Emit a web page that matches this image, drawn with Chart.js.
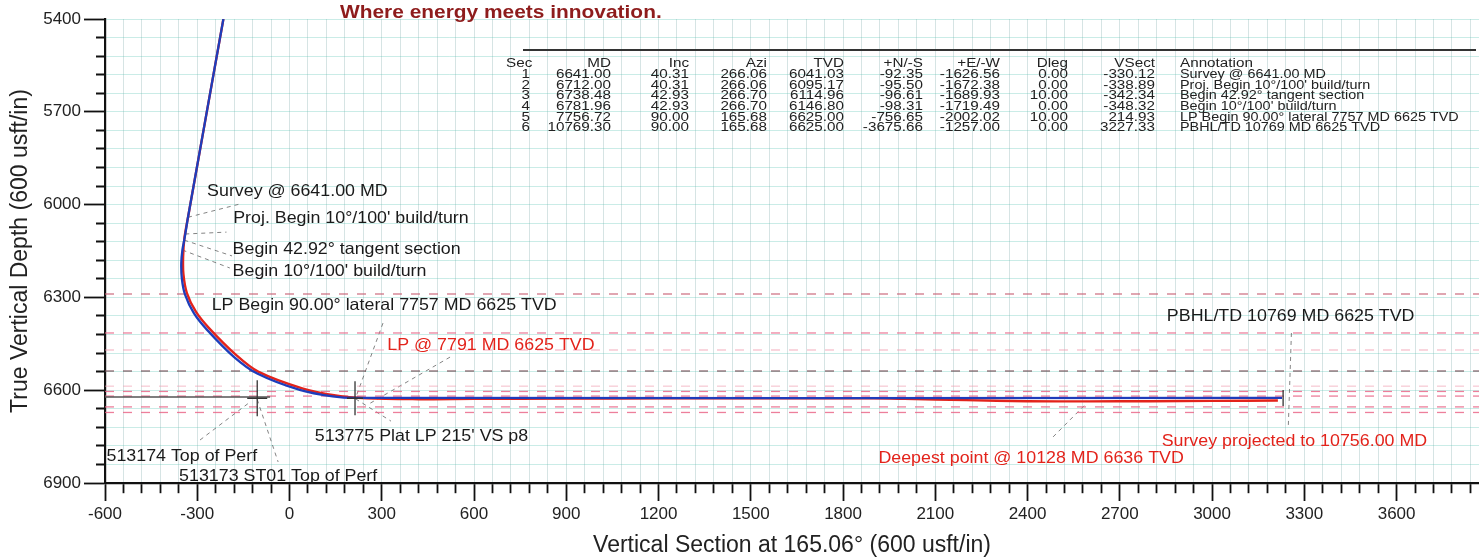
<!DOCTYPE html>
<html>
<head>
<meta charset="utf-8">
<script src="https://cdn.jsdelivr.net/npm/chart.js@4.4.1/dist/chart.umd.min.js"></script>
<style>
html,body{margin:0;padding:0;background:#fff;}
#wrap{position:relative;width:1479px;height:557px;}
</style>
</head>
<body>
<div id="wrap"><canvas id="c"></canvas></div>
<script>
// ---------------- DATA ----------------
// Plan (blue) well path: Vertical Section (usft) vs True Vertical Depth (usft)
const planVS  = [-215, -330.12, -338.89, -342.34, -348.32, -352, -350, -340, -311, -268, -181, -105, 36, 140, 214.93, 3227.33];
const planTVD = [5400, 6041.03, 6095.17, 6114.96, 6146.80, 6190, 6240, 6290, 6351, 6405, 6492, 6546, 6600, 6620, 6625, 6625];

// Actual survey (red) well path
const surveyVS  = [-215, -330, -342, -346, -345, -334, -304, -261, -174, -102, 44, 150, 250, 400, 600, 900, 1200, 1900, 2000, 2200, 2400, 2600, 2800, 3000, 3214];
const surveyTVD = [5400, 6041, 6110, 6170, 6225, 6285, 6347, 6400, 6486, 6540, 6595, 6617, 6626, 6629, 6628, 6627, 6626.5, 6626.5, 6628, 6632, 6635.5, 6636, 6635.5, 6634.5, 6633.5];

// Formation tops (dashed lines), TVD
const formationTVD = [6289, 6415, 6470, 6538, 6587, 6604, 6619, 6654, 6672];

// Perf target line (grey) and target crosshairs
const perfLineVS  = [-600, -63];
const perfLineTVD = [6622, 6622];
const targetVS  = [-105, 213, 3231];
const targetTVD = [6626, 6626, 6625];

// Axis ticks
const xMajorTicks = [-600, -300, 0, 300, 600, 900, 1200, 1500, 1800, 2100, 2400, 2700, 3000, 3300, 3600];
const yMajorTicks = [5400, 5700, 6000, 6300, 6600, 6900];
const minorStep = 60;

// Section table
const tableHeaders = ['Sec', 'MD', 'Inc', 'Azi', 'TVD', '+N/-S', '+E/-W', 'Dleg', 'VSect', 'Annotation'];
const secCol   = ['1', '2', '3', '4', '5', '6'];
const mdCol    = ['6641.00', '6712.00', '6738.48', '6781.96', '7756.72', '10769.30'];
const incCol   = ['40.31', '40.31', '42.93', '42.93', '90.00', '90.00'];
const aziCol   = ['266.06', '266.06', '266.70', '266.70', '165.68', '165.68'];
const tvdCol   = ['6041.03', '6095.17', '6114.96', '6146.80', '6625.00', '6625.00'];
const nsCol    = ['-92.35', '-95.50', '-96.61', '-98.31', '-756.65', '-3675.66'];
const ewCol    = ['-1626.56', '-1672.38', '-1689.93', '-1719.49', '-2002.02', '-1257.00'];
const dlegCol  = ['0.00', '0.00', '10.00', '0.00', '10.00', '0.00'];
const vsectCol = ['-330.12', '-338.89', '-342.34', '-348.32', '214.93', '3227.33'];
const annoCol  = ['Survey @ 6641.00 MD', "Proj. Begin 10°/100' build/turn", 'Begin 42.92° tangent section',
                  "Begin 10°/100' build/turn", 'LP Begin 90.00° lateral 7757 MD 6625 TVD', 'PBHL/TD 10769 MD 6625 TVD'];

// Plot annotations text
const labelTexts = ['Survey @ 6641.00 MD', "Proj. Begin 10°/100' build/turn", 'Begin 42.92° tangent section',
  "Begin 10°/100' build/turn", 'LP Begin 90.00° lateral 7757 MD 6625 TVD', 'LP @ 7791 MD 6625 TVD',
  "513775 Plat LP 215' VS p8", '513174 Top of Perf', '513173 ST01 Top of Perf',
  'PBHL/TD 10769 MD 6625 TVD', 'Survey projected to 10756.00 MD', 'Deepest point @ 10128 MD 6636 TVD'];
const headerText = 'Where energy meets innovation.';

// ---------------- LAYOUT / STYLE ----------------
const X_MIN = -600, X_MAX = 3868, Y_MIN = 5400, Y_MAX = 6900;
const FONT = "'Liberation Sans', Arial, Helvetica, sans-serif";
const RED = '#e3231b';
const formationColors = ['rgba(200,95,115,0.85)', 'rgba(232,100,135,0.8)', 'rgba(240,150,170,0.6)',
  'rgba(115,75,85,0.85)', 'rgba(240,160,178,0.55)', 'rgba(232,95,130,0.8)', 'rgba(232,95,130,0.8)',
  'rgba(232,95,130,0.8)', 'rgba(232,95,130,0.8)'];
// label placement in data coordinates [VS, TVD] (left edge, vertical middle)
const labelPlace = [[-268, 5958], [-183, 6044], [-185, 6145], [-185, 6217], [-253, 6325], [318, 6454],
  [82, 6751], [-595, 6815], [-359, 6880], [2853, 6362], [2836, 6766], [1915, 6820]];
const labelColor = ['#1a1a1a', '#1a1a1a', '#1a1a1a', '#1a1a1a', '#1a1a1a', RED,
  '#1a1a1a', '#1a1a1a', '#1a1a1a', '#1a1a1a', RED, RED];
const leaders = [
  [[-330, 6041], [-161, 5998]],
  [[-339, 6095], [-205, 6089]],
  [[-342, 6115], [-187, 6166]],
  [[-348, 6147], [-194, 6205]],
  [[304, 6383], [215, 6625]],
  [[522, 6493], [252, 6648]],
  [[215, 6628], [330, 6700]],
  [[-291, 6761], [-128, 6638]],
  [[-105, 6630], [-37, 6832]],
  [[3258, 6415], [3248, 6713]],
  [[2483, 6751], [2593, 6641]]
];

function pts(xs, ys) { return xs.map((x, i) => ({x: x, y: ys[i]})); }

const datasets = [
  {label: 'Plan', data: pts(planVS, planTVD), borderColor: '#1e3dbb', borderWidth: 2.3,
   showLine: true, pointRadius: 0, tension: 0.3, order: 0},
  {label: 'Survey', data: pts(surveyVS, surveyTVD), borderColor: RED, borderWidth: 2.4,
   showLine: true, pointRadius: 0, tension: 0.3, order: 1},
  {label: 'Perf', data: pts(perfLineVS, perfLineTVD), borderColor: '#555', borderWidth: 1.3,
   showLine: true, pointRadius: 0, order: 3}
];
formationTVD.forEach((t, i) => {
  datasets.push({label: 'Fm' + i, data: [{x: X_MIN, y: t}, {x: X_MAX, y: t}],
    borderColor: formationColors[i], borderWidth: 1.3, borderDash: [9, 9],
    showLine: true, pointRadius: 0, order: 5});
});

function drawText(ctx, text, x, y, font, color, sx, align, baseline) {
  ctx.save();
  ctx.font = font;
  ctx.fillStyle = color;
  ctx.textAlign = align || 'left';
  ctx.textBaseline = baseline || 'middle';
  ctx.translate(x, y);
  ctx.scale(sx || 1, 1);
  ctx.fillText(text, 0, 0);
  ctx.restore();
}

const overlay = {
  id: 'overlay',
  beforeDatasetsDraw(chart) {
    const ctx = chart.ctx, xs = chart.scales.x, ys = chart.scales.y;
    ctx.save();
    ctx.strokeStyle = 'rgba(90,90,90,0.75)';
    ctx.lineWidth = 1;
    ctx.setLineDash([4, 4]);
    leaders.forEach(l => {
      ctx.beginPath();
      ctx.moveTo(xs.getPixelForValue(l[0][0]), ys.getPixelForValue(l[0][1]));
      ctx.lineTo(xs.getPixelForValue(l[1][0]), ys.getPixelForValue(l[1][1]));
      ctx.stroke();
    });
    ctx.restore();
  },
  afterDatasetsDraw(chart) {
    const ctx = chart.ctx, xs = chart.scales.x, ys = chart.scales.y;
    const halfV = [18, 17, 8], halfH = [10, 8, 0];
    ctx.save();
    ctx.strokeStyle = '#333';
    ctx.lineWidth = 1.3;
    targetVS.forEach((v, i) => {
      const px = xs.getPixelForValue(v), py = ys.getPixelForValue(targetTVD[i]);
      ctx.beginPath();
      ctx.moveTo(px, py - halfV[i]); ctx.lineTo(px, py + halfV[i]);
      if (halfH[i]) { ctx.moveTo(px - halfH[i], py); ctx.lineTo(px + halfH[i], py); }
      ctx.stroke();
    });
    ctx.restore();
  },
  afterDraw(chart) {
    const ctx = chart.ctx, xs = chart.scales.x, ys = chart.scales.y;
    // header slogan
    drawText(ctx, headerText, 340, 18, 'bold 19px ' + FONT, '#8e1c1c', 1.1, 'left', 'alphabetic');
    // plot annotations
    labelTexts.forEach((t, i) => {
      drawText(ctx, t, xs.getPixelForValue(labelPlace[i][0]), ys.getPixelForValue(labelPlace[i][1]),
        '16.5px ' + FONT, labelColor[i], 1.08, 'left', 'middle');
    });
    // table
    ctx.save();
    ctx.strokeStyle = '#333';
    ctx.lineWidth = 2;
    ctx.beginPath(); ctx.moveTo(523, 50); ctx.lineTo(1476, 50); ctx.stroke();
    ctx.restore();
    const tf = '12px ' + FONT, tc = '#222', sx = 1.27;
    const rightEdges = [0, 611, 689, 767, 844, 923, 1000, 1068, 1155];
    const hy = 64, y0 = 74.8, dy = 10.65;
    drawText(ctx, tableHeaders[0], 506, hy, tf, tc, sx, 'left');
    for (let c = 1; c <= 8; c++) drawText(ctx, tableHeaders[c], rightEdges[c], hy, tf, tc, sx, 'right');
    drawText(ctx, tableHeaders[9], 1180, hy, tf, tc, sx, 'left');
    const cols = [secCol, mdCol, incCol, aziCol, tvdCol, nsCol, ewCol, dlegCol, vsectCol];
    for (let r = 0; r < secCol.length; r++) {
      const y = y0 + r * dy;
      drawText(ctx, secCol[r], 530, y, tf, tc, sx, 'right');
      for (let c = 1; c <= 8; c++) drawText(ctx, cols[c][r], rightEdges[c], y, tf, tc, sx, 'right');
      drawText(ctx, annoCol[r], 1180, y, tf, tc, 1.2, 'left');
    }
  }
};

const isMajorX = v => xMajorTicks.includes(v);
const isMajorY = v => yMajorTicks.includes(v);

new Chart(document.getElementById('c'), {
  type: 'scatter',
  data: {datasets: datasets},
  options: {
    responsive: true,
    maintainAspectRatio: false,
    animation: false,
    layout: {padding: {top: 19, right: 0, bottom: 0, left: 0}},
    plugins: {legend: {display: false}, tooltip: {enabled: false}},
    scales: {
      x: {
        type: 'linear', position: 'bottom', min: X_MIN, max: X_MAX,
        afterBuildTicks: s => { const t = []; for (let v = X_MIN; v <= X_MAX; v += minorStep) t.push({value: v}); s.ticks = t; },
        afterFit: s => { s.height = 74; },
        ticks: {autoSkip: false, maxRotation: 0, minRotation: 0, padding: 3, color: '#222',
          font: {family: FONT, size: 17}, callback: v => isMajorX(v) ? String(v) : ''},
        grid: {drawOnChartArea: true, color: 'rgba(120,165,165,0.30)', lineWidth: 1, tickLength: 18,
          tickColor: '#111', tickWidth: 1.8,
          tickBorderDash: c => (c.tick && isMajorX(c.tick.value)) ? [] : [9, 40]},
        border: {display: true, color: '#111', width: 2.2},
        title: {display: true, text: 'Vertical Section at 165.06° (600 usft/in)', color: '#222',
          font: {family: FONT, size: 23, lineHeight: 1}, padding: {top: 0, bottom: 0}}
      },
      y: {
        type: 'linear', position: 'left', reverse: true, min: Y_MIN, max: Y_MAX,
        afterBuildTicks: s => { const t = []; for (let v = Y_MIN; v <= Y_MAX; v += minorStep) t.push({value: v}); s.ticks = t; },
        afterFit: s => { s.width = 105; },
        ticks: {autoSkip: false, padding: 3, color: '#222', font: {family: FONT, size: 17},
          callback: v => isMajorY(v) ? String(v) : ''},
        grid: {drawOnChartArea: true, color: 'rgba(90,195,180,0.32)', lineWidth: 1, tickLength: 21,
          tickColor: '#111', tickWidth: 1.8,
          tickBorderDash: c => (c.tick && isMajorY(c.tick.value)) ? [] : [0, 12, 9, 40]},
        border: {display: true, color: '#111', width: 2.2},
        title: {display: true, text: 'True Vertical Depth (600 usft/in)', color: '#222',
          font: {family: FONT, size: 23, lineHeight: 1}, padding: {top: 9, bottom: 0}}
      }
    }
  },
  plugins: [overlay]
});
</script>
</body>
</html>
